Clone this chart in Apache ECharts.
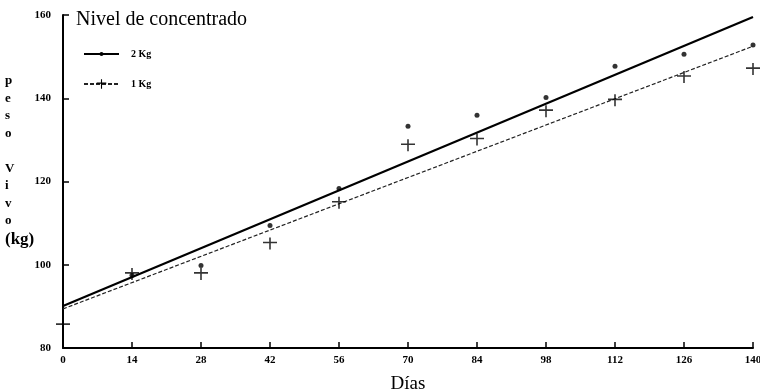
<!DOCTYPE html>
<html>
<head>
<meta charset="utf-8">
<script src="https://cdn.jsdelivr.net/npm/echarts@6/dist/echarts.min.js"></script>
<style>
html, body { margin: 0; padding: 0; background: #fff; }
#chart { width: 760px; height: 392px; }
</style>
</head>
<body>
<div id="chart"></div>
<script>
// datos
var dias = [0, 14, 28, 42, 56, 70, 84, 98, 112, 126, 140];
var peso2Kg = [null, 97.5, 99.8, 109.4, 118.3, 133.3, 135.9, 140.2, 147.7, 150.6, 152.8];
var peso1Kg = [85.5, 97.8, 97.8, 105.1, 114.9, 128.7, 130.1, 136.9, 139.5, 145.1, 147.0];
// rectas de regresion (extremos dia 0 y dia 140)
var rectaDias = [0, 140];
var recta2Kg = [90.1, 159.5];
var recta1Kg = [89.4, 152.5];
var yTicks = [80, 100, 120, 140, 160];

var serif = '"Liberation Serif", "DejaVu Serif", serif';
var cruz = 'path://M0,4.2L14,4.2L14,5.8L0,5.8Z M6.2,0L7.8,0L7.8,12L6.2,12Z';
var legendText = { fontFamily: serif, fontWeight: 'bold', fontSize: 10, color: '#000', padding: [0, 0, 0, 7] };

function pares(xs, ys) {
  return xs.map(function (x, i) { return [x, ys[i]]; });
}

var chart = echarts.init(document.getElementById('chart'));
var option = {
  animation: false,
  backgroundColor: '#fff',
  grid: { left: 63, right: 7, top: 15, bottom: 44, outerBoundsMode: 'none', containLabel: false },
  // dos leyendas para poder dar distinto tamaño al punto y a la cruz
  legend: [
    {
      left: 78, top: 44,
      itemWidth: 35, itemHeight: 5,
      data: ['2 Kg'],
      textStyle: legendText
    },
    {
      left: 78, top: 74,
      itemWidth: 35, itemHeight: 12,
      data: ['1 Kg'],
      textStyle: legendText
    }
  ],
  graphic: [
    {
      type: 'text', left: 76, top: 10,
      style: { text: 'Nivel de concentrado', font: '20px ' + serif, fill: '#000' }
    },
    {
      type: 'text', left: 5, top: 72,
      style: {
        text: 'p\ne\ns\no\n\nV\ni\nv\no\n{k|(kg)}',
        font: 'bold 13px ' + serif,
        fill: '#000',
        lineHeight: 17.5,
        align: 'center',
        x: 12,
        rich: { k: { fontFamily: serif, fontWeight: 'bold', fontSize: 17, lineHeight: 20 } }
      }
    }
  ],
  xAxis: {
    type: 'value',
    min: 0,
    max: 140,
    interval: 14,
    name: 'Días',
    nameLocation: 'middle',
    nameGap: 27,
    nameTextStyle: { fontFamily: serif, fontSize: 19, color: '#000' },
    axisLine: { lineStyle: { color: '#000', width: 2 } },
    axisTick: { inside: true, length: 6, lineStyle: { color: '#000', width: 1.5 } },
    axisLabel: { fontFamily: serif, fontWeight: 'bold', fontSize: 11, color: '#000', margin: 7 },
    splitLine: { show: false }
  },
  yAxis: {
    type: 'value',
    min: 80,
    max: 160,
    interval: 20,
    axisLine: { show: true, lineStyle: { color: '#000', width: 2 } },
    axisTick: { show: true, inside: true, length: 6, lineStyle: { color: '#000', width: 1.5 } },
    axisLabel: {
      fontFamily: serif, fontWeight: 'bold', fontSize: 11, color: '#000', margin: 12,
      formatter: function (v) { return yTicks.indexOf(v) >= 0 ? String(v) : ''; }
    },
    splitLine: { show: false }
  },
  series: [
    {
      name: '2 Kg',
      type: 'line',
      data: pares(rectaDias, recta2Kg),
      symbol: 'circle',
      symbolSize: 4,
      showSymbol: false,
      itemStyle: { color: '#000' },
      lineStyle: { color: '#000', width: 2.2 },
      z: 3
    },
    {
      name: '1 Kg',
      type: 'line',
      data: pares(rectaDias, recta1Kg),
      symbol: cruz,
      symbolSize: [14, 12],
      showSymbol: false,
      itemStyle: { color: '#000' },
      lineStyle: { color: '#222', width: 1.2, type: [4, 2] },
      z: 3
    },
    {
      name: '2 Kg',
      type: 'scatter',
      data: pares(dias, peso2Kg),
      symbol: 'circle',
      symbolSize: 5,
      itemStyle: { color: '#000' },
      z: 4
    },
    {
      name: '1 Kg',
      type: 'scatter',
      data: pares(dias, peso1Kg),
      symbol: cruz,
      symbolSize: [14, 12],
      itemStyle: { color: '#000' },
      z: 4
    }
  ]
};
chart.setOption(option);
</script>
</body>
</html>
